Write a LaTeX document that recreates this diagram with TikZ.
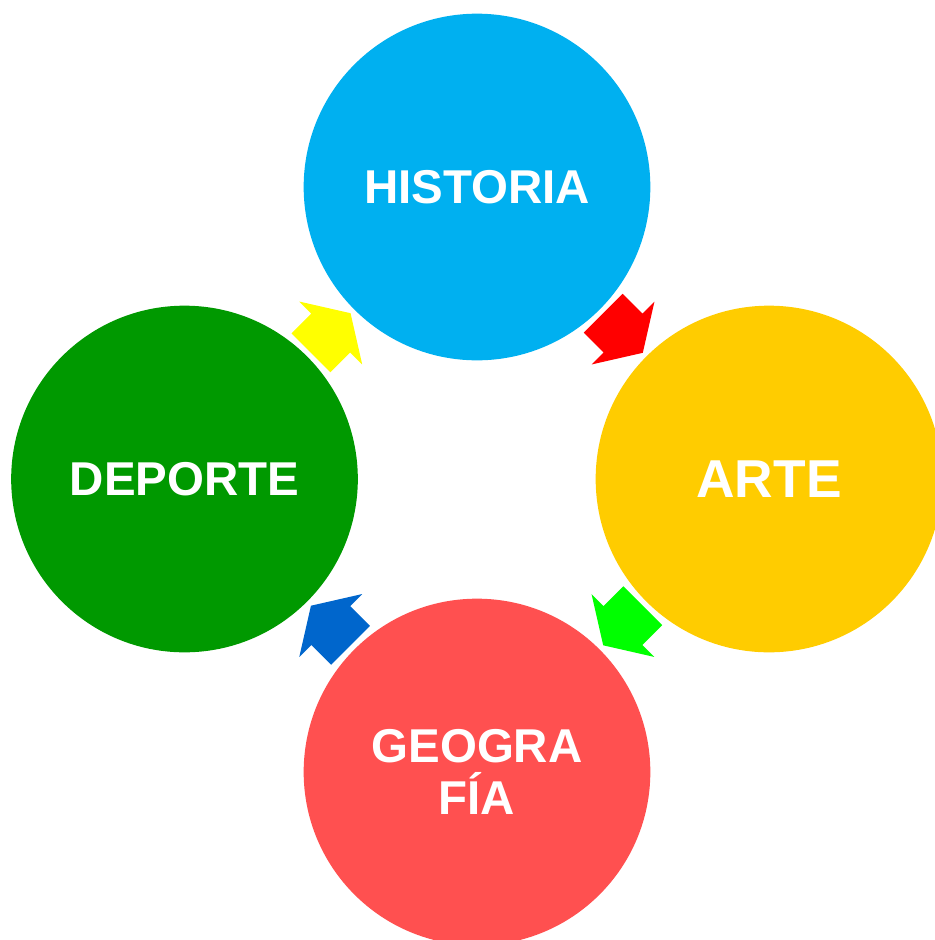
\documentclass[tikz,border=0pt]{standalone}
\usepackage{fontspec}
\setmainfont{Liberation Sans}
\usetikzlibrary{calc}

\definecolor{histblue}{RGB}{0,176,240}
\definecolor{arteyellow}{RGB}{255,204,0}
\definecolor{geored}{RGB}{255,80,80}
\definecolor{depgreen}{RGB}{0,153,0}
\definecolor{arrred}{RGB}{255,0,0}
\definecolor{arrgreen}{RGB}{0,255,0}
\definecolor{arrblue}{RGB}{0,102,204}
\definecolor{arryellow}{RGB}{255,255,0}

\tikzset{
  topic/.style={circle, draw=none, minimum size=260pt, inner sep=0pt, align=center,
    text=white, font=\fontsize{35.6}{39.2}\selectfont\bfseries},
}

\begin{document}
\begin{tikzpicture}[x=0.75pt,y=0.75pt,yscale=-1,xscale=1]
\useasboundingbox (0,0) rectangle (935,940);
\clip (0,0) rectangle (935,940);

%Shape: Circle [historia]
\node [topic, fill=histblue] (historia) at (477,187) {HISTORIA};
%Shape: Circle [arte]
\node [topic, fill=arteyellow, font=\fontsize{40}{44}\selectfont\bfseries] (arte) at (769,479) {ARTE};
%Shape: Circle [geografia]
\node [topic, fill=geored] (geografia) at (477,772) {GEOGRA\\FÍA};
%Shape: Circle [deporte]
\node [topic, fill=depgreen] (deporte) at (184.5,479) {DEPORTE};

%Block arrows between the circles
\foreach \from/\to/\ang/\col in {historia/arte/45/arrred, arte/geografia/135/arrgreen, geografia/deporte/225/arrblue, deporte/historia/315/arryellow}
  \fill [\col, shift={($(\from)!0.5!(\to)$)}, rotate=\ang] (-28,-27.5) -- (0,-27.5) -- (0,-44.5) -- (28,0) -- (0,44.5) -- (0,27.5) -- (-28,27.5) -- cycle ;

\end{tikzpicture}
\end{document}
